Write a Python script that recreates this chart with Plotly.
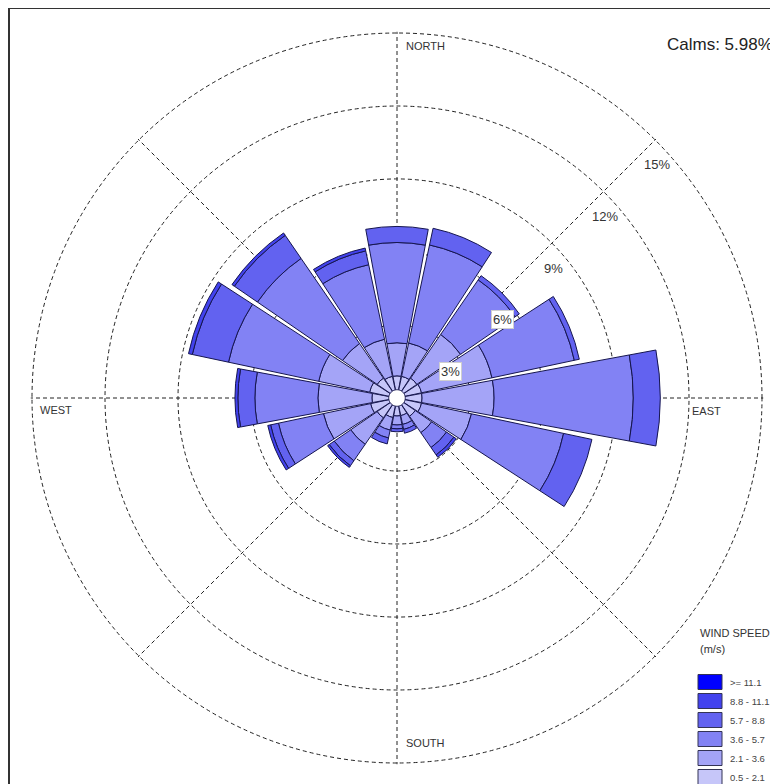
import plotly.graph_objects as go
import numpy as np

# ---- data (percent of hours, by direction and speed class) ----
directions = ["N", "NNE", "NE", "ENE", "E", "ESE", "SE", "SSE",
              "S", "SSW", "SW", "WSW", "W", "WNW", "NW", "NNW"]

speed_classes = ["0.5 - 2.1", "2.1 - 3.6", "3.6 - 5.7",
                 "5.7 - 8.8", "8.8 - 11.1", ">= 11.1"]

freq_05_21 = [0.91, 0.91, 0.99, 1.03, 1.03, 1.03, 0.91, 0.74,
              0.74, 0.82, 0.99, 1.11, 1.03, 1.15, 0.99, 0.91]
freq_21_36 = [1.36, 1.40, 2.18, 2.96, 2.96, 2.10, 0.82, 0.37,
              0.37, 0.53, 1.32, 1.98, 2.22, 2.14, 1.73, 1.56]
freq_36_57 = [4.12, 4.12, 2.72, 3.46, 5.72, 3.87, 0.74, 0.21,
              0.16, 0.33, 0.82, 1.89, 2.59, 3.79, 4.24, 3.13]
freq_57_88 = [0.66, 0.70, 0.21, 0.21, 1.11, 1.19, 0.37, 0.16,
              0.12, 0.25, 0.25, 0.33, 0.70, 1.52, 1.15, 0.58]
freq_88_111 = [0.00, 0.00, 0.00, 0.00, 0.00, 0.00, 0.12, 0.00,
               0.00, 0.00, 0.08, 0.12, 0.12, 0.16, 0.12, 0.12]
freq_111 = [0.0] * 16

ring_values = [3, 6, 9, 12, 15]
calms_pct = 5.98

class_colors = ["#c6c6f9", "#a4a4f7", "#8282f4", "#6262f0", "#4242ee", "#0000ff"]

# ---- geometry of the page ----
W, H = 778, 784
OFF = 8                # page body margin around the plot div
CX, CY = 397, 398      # centre of the rose in screenshot pixels
R_MAX = 15.05
R_PX = 365 * R_MAX / 15   # so the 15% ring sits at 365 px
FONT = "Arial, Liberation Sans, sans-serif"


def paper(x, y):
    return (x - OFF) / W, 1 - (y - OFF) / H


angles = [i * 360 / len(directions) for i in range(len(directions))]
series = [freq_05_21, freq_21_36, freq_36_57, freq_57_88, freq_88_111, freq_111]

fig = go.Figure()

for name, vals, col in zip(speed_classes, series, class_colors):
    fig.add_trace(go.Barpolar(
        r=vals,
        theta=angles,
        width=21,
        name=name,
        marker=dict(color=col, line=dict(color="#16164f", width=1)),
        showlegend=False,
        hoverinfo="skip",
    ))

# calm circle in the middle
circ = np.linspace(0, 360, 73)
fig.add_trace(go.Scatterpolar(
    r=[0.34] * len(circ),
    theta=circ,
    mode="lines",
    fill="toself",
    fillcolor="white",
    line=dict(color="#16164f", width=1),
    showlegend=False,
    hoverinfo="skip",
))

dx0, dy1 = paper(CX - R_PX, CY - R_PX)
dx1, dy0 = paper(CX + R_PX, CY + R_PX)

fig.update_layout(
    width=W,
    height=H,
    margin=dict(l=0, r=0, t=0, b=0),
    paper_bgcolor="white",
    plot_bgcolor="white",
    font=dict(family=FONT, color="#333333"),
    polar=dict(
        domain=dict(x=[dx0, dx1], y=[dy0, dy1]),
        bgcolor="white",
        barmode="stack",
        radialaxis=dict(
            range=[0, R_MAX],
            tickvals=ring_values,
            showticklabels=False,
            ticks="",
            showline=False,
            gridcolor="#222222",
            gridwidth=1,
            griddash="4px,3px",
        ),
        angularaxis=dict(
            rotation=90,
            direction="clockwise",
            tickvals=[0, 45, 90, 135, 180, 225, 270, 315],
            showticklabels=False,
            ticks="",
            showline=False,
            gridcolor="#222222",
            gridwidth=1,
            griddash="4px,3px",
        ),
    ),
)

annotations = []

# ring labels along the NE diagonal
for v in ring_values:
    rp = v * R_PX / R_MAX
    x = CX + rp * np.cos(np.pi / 4) + 2
    y = CY - rp * np.sin(np.pi / 4) + 25
    px, py = paper(x, y)
    boxed = v <= 6
    annotations.append(dict(
        x=px, y=py, xref="paper", yref="paper", text=f"{v}%",
        showarrow=False, xanchor="center", yanchor="middle",
        font=dict(size=13, color="#333333", family=FONT),
        bgcolor="white",
        bordercolor="#cfcfcf" if boxed else "rgba(0,0,0,0)",
        borderwidth=1 if boxed else 0, borderpad=1,
    ))

# compass labels
compass = [("NORTH", 404, 46), ("SOUTH", 404, 743),
           ("WEST", 38, 410), ("EAST", 690, 411)]
for txt, x, y in compass:
    px, py = paper(x, y)
    annotations.append(dict(
        x=px, y=py, xref="paper", yref="paper", text=txt, showarrow=False,
        xanchor="left", yanchor="middle",
        font=dict(size=11, color="#333333", family=FONT),
    ))

# calms
px, py = paper(665, 44)
annotations.append(dict(
    x=px, y=py, xref="paper", yref="paper", text=f"Calms: {calms_pct:.2f}%",
    showarrow=False, xanchor="left", yanchor="middle",
    font=dict(size=17, color="#222222", family=FONT),
))

# legend title
for txt, y in [("WIND SPEED", 633), ("(m/s)", 649)]:
    px, py = paper(698, y)
    annotations.append(dict(
        x=px, y=py, xref="paper", yref="paper", text=txt, showarrow=False,
        xanchor="left", yanchor="middle",
        font=dict(size=11, color="#333333", family=FONT),
    ))

shapes = []
# legend swatches, strongest class on top
for i, (name, col) in enumerate(zip(speed_classes[::-1], class_colors[::-1])):
    yc = 682 + 19 * i
    x0, y0 = paper(698, yc + 7.5)
    x1, y1 = paper(722, yc - 7.5)
    shapes.append(dict(type="rect", xref="paper", yref="paper",
                       x0=x0, y0=y0, x1=x1, y1=y1, fillcolor=col,
                       line=dict(color="#333355", width=1)))
    px, py = paper(728, yc)
    annotations.append(dict(
        x=px, y=py, xref="paper", yref="paper", text=name, showarrow=False,
        xanchor="left", yanchor="middle",
        font=dict(size=9.5, color="#444444", family=FONT),
    ))

# frame (left and top edges are visible)
fx0, fy0 = paper(9, 8)
shapes.append(dict(type="line", xref="paper", yref="paper",
                   x0=fx0, y0=fy0, x1=1.05, y1=fy0,
                   line=dict(color="#333333", width=2)))
shapes.append(dict(type="line", xref="paper", yref="paper",
                   x0=fx0, y0=fy0, x1=fx0, y1=-0.05,
                   line=dict(color="#333333", width=2)))

fig.update_layout(annotations=annotations, shapes=shapes)

fig.write_html("out.html")
